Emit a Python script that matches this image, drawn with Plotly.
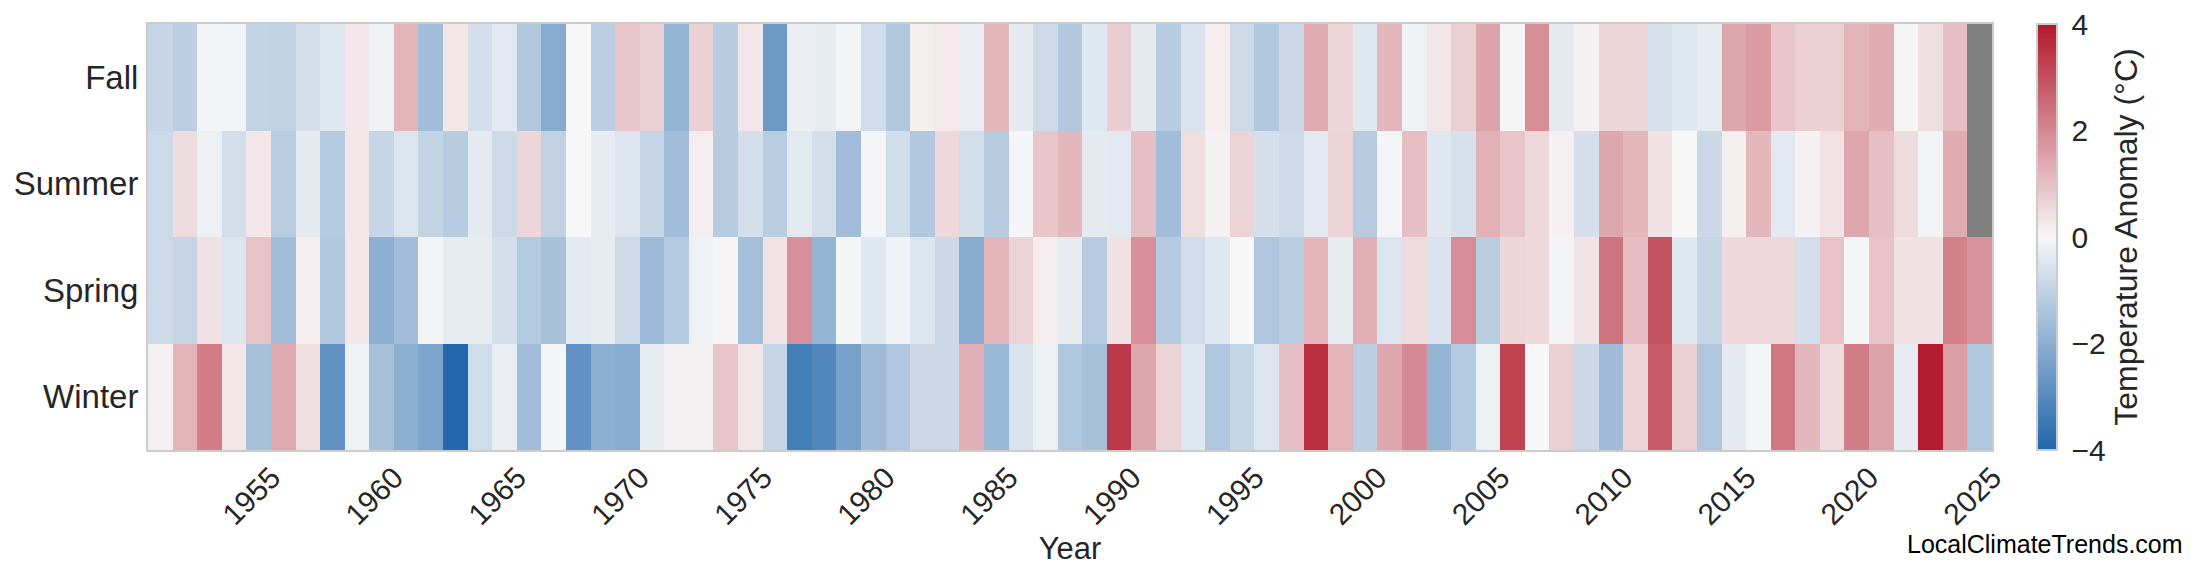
import plotly.graph_objects as go
import numpy as np

years = list(range(1951, 2026))
seasons = ["Winter", "Spring", "Summer", "Fall"]

fall = [-0.9, -1.1, -0.1, -0.1, -1.0, -1.05, -0.65, -0.45, 0.3, -0.15,
        1.2, -1.6, 0.3, -0.65, -0.4, -1.3, -2.1, 0.0, -1.1, 0.9,
        0.7, -1.85, 0.7, -1.2, 0.3, -2.6, -0.25, -0.3, -0.1, -0.75,
        -1.3, 0.15, 0.25, -0.25, 1.15, -0.35, -0.8, -1.3, -0.45, 0.75,
        -0.35, -1.2, -0.55, 0.2, -0.8, -1.3, -0.85, 1.35, 0.6, -0.45,
        1.15, -0.15, 0.3, 0.7, 1.5, 0.05, 1.9, -0.35, 0.1, 0.6,
        0.6, -0.6, -0.45, -0.3, 1.45, 1.65, 0.9, 0.7, 0.7, 1.2,
        1.35, 0.05, 0.45, 1.0, None]
summer = [-0.8, 0.5, -0.2, -0.7, 0.3, -1.15, -0.35, -1.25, 0.3, -0.9,
          -0.5, -1.0, -1.2, -0.35, -0.8, 0.6, -1.05, 0.0, -0.3, -0.5,
          -0.95, -1.6, 0.2, -1.2, -0.65, -1.15, -0.4, -0.65, -1.6, -0.05,
          -0.75, -1.3, 0.55, -0.7, -1.2, -0.05, 0.9, 1.15, -0.35, -0.4,
          1.0, -1.6, 0.45, 0.1, 0.65, -0.65, -0.8, -0.4, 0.65, -1.2,
          -0.05, 1.0, -0.45, -0.6, 1.25, 0.9, 0.55, 0.1, -0.65, 1.45,
          1.15, 0.4, 0.0, -0.85, 0.15, 1.15, -0.4, 0.1, 0.35, 1.45,
          1.0, 0.5, -0.1, 1.35, None]
spring = [-0.8, -0.95, 0.4, -0.5, 0.95, -1.6, 0.2, -1.3, 0.3, -2.0,
          -1.6, -0.1, -0.3, -0.3, -0.7, -1.25, -1.5, -0.35, -0.3, -0.8,
          -1.7, -1.25, -0.15, 0.05, -1.55, 0.35, 1.85, -1.85, -0.05, -0.45,
          -0.15, -0.5, -0.85, -2.1, 1.2, 0.65, 0.2, -0.3, -1.2, 0.4,
          1.85, -1.25, -0.75, -0.45, 0.0, -1.35, -1.15, 1.2, -0.3, 1.3,
          -0.5, 0.5, -0.55, 1.9, -1.15, 0.6, 0.55, -0.1, 0.35, 2.35,
          1.05, 2.95, -0.45, -0.95, 0.55, 0.55, 0.55, -0.65, 0.95, -0.05,
          0.95, 0.4, 0.4, 2.1, 1.8]
winter = [0.1, 1.2, 2.2, 0.3, -1.5, 1.4, 0.45, -2.8, -0.15, -1.5,
          -2.0, -2.3, -3.95, -0.75, -0.25, -1.6, -0.05, -2.8, -2.0, -2.1,
          -0.3, 0.1, 0.1, 0.9, 0.3, -0.95, -3.35, -3.1, -2.35, -1.65,
          -1.35, -0.85, -0.85, 1.3, -1.75, -0.55, -0.2, -1.35, -1.5, 3.4,
          1.45, 0.65, -0.45, -1.35, -0.95, -0.5, 1.0, 3.6, 1.2, -1.1,
          1.45, 1.95, -1.85, -1.25, -0.2, 3.25, 0.0, 0.7, -0.85, -1.65,
          0.65, 2.8, 0.7, -1.35, -0.35, -0.05, 2.3, 1.15, 0.5, 2.2,
          1.5, -0.3, 3.95, 1.6, -1.35]

tick_years = list(range(1955, 2026, 5))
cbar_vals = [-4, -2, 0, 2, 4]
cbar_text = ["\u22124", "\u22122", "0", "2", "4"]

z = [[np.nan if v is None else v for v in row] for row in [winter, spring, summer, fall]]
mask = [[1 if v is None else None for v in row] for row in [winter, spring, summer, fall]]

FONT = "Liberation Sans, Arial, sans-serif"
TXT = "#262626"

# page body has an 8px default margin; figure sized so it fits the window
W, H = 2192, 577
L, R, T, B = 140, 208, 16, 135
PH = H - T - B

fig = go.Figure()
fig.add_trace(go.Heatmap(
    x=years, y=seasons, z=z,
    zmin=-4, zmax=4,
    colorscale=[[0, "#2166ac"], [0.5, "#f7f7f7"], [1, "#b2182b"]],
    colorbar=dict(
        x=1.0244, xanchor="left", xpad=0,
        y=0.5, yanchor="middle", len=1, lenmode="fraction", ypad=0,
        thickness=20, outlinewidth=2, outlinecolor="#cccccc",
        tickvals=cbar_vals, ticktext=cbar_text,
        ticks="outside", ticklen=8, tickcolor="rgba(0,0,0,0)",
        ticklabeloverflow="allow",
        tickfont=dict(family=FONT, size=30, color=TXT),
        title=dict(text="Temperature Anomaly (°C)", side="right",
                   font=dict(family=FONT, size=32, color=TXT)),
    ),
))
fig.add_trace(go.Heatmap(
    x=years, y=seasons, z=mask,
    colorscale=[[0, "#808080"], [1, "#808080"]],
    showscale=False, hoverinfo="skip",
))

fig.update_layout(
    width=W, height=H,
    margin=dict(l=L, r=R, t=T, b=B),
    paper_bgcolor="white", plot_bgcolor="white",
    showlegend=False,
)
fig.update_xaxes(
    range=[1950.5, 2025.5], automargin=False,
    tickvals=tick_years, ticktext=[str(t) for t in tick_years],
    tickangle=-45, ticks="", ticklabelstandoff=-4,
    ticklabelshift=13,
    tickfont=dict(family=FONT, size=30, color=TXT),
    showgrid=False, zeroline=False,
    showline=True, linecolor="#cccccc", linewidth=2, mirror=True,
    title=dict(text="Year", font=dict(family=FONT, size=31, color=TXT), standoff=2),
)
fig.update_yaxes(
    categoryorder="array", categoryarray=seasons, automargin=False,
    ticks="outside", ticklen=1, tickcolor="rgba(0,0,0,0)",
    tickfont=dict(family=FONT, size=33, color=TXT),
    showgrid=False, zeroline=False,
    showline=True, linecolor="#cccccc", linewidth=2, mirror=True,
)
fig.add_annotation(
    text="LocalClimateTrends.com", xref="paper", yref="paper",
    x=1.1047, y=-94 / PH,
    xanchor="right", yanchor="middle", showarrow=False,
    font=dict(family=FONT, size=25, color="#000000"),
)
fig.write_html("out.html")
